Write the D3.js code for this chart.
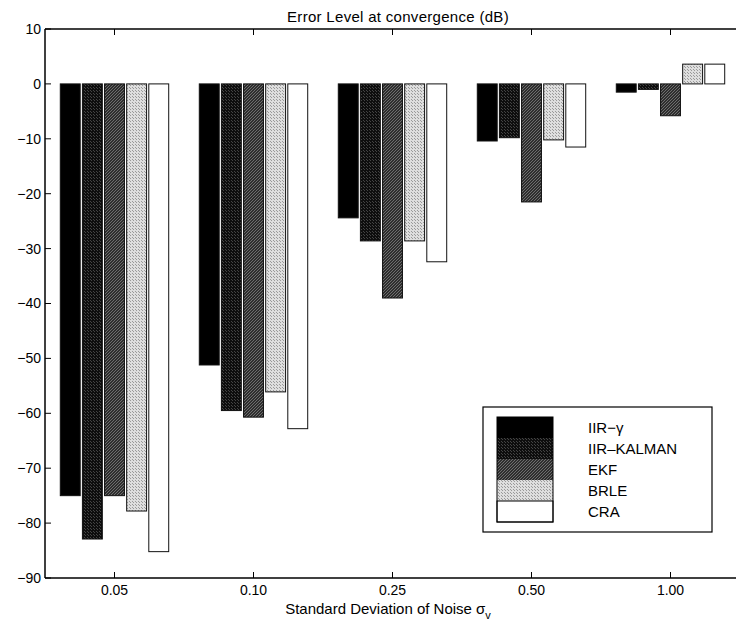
<!DOCTYPE html>
<html>
<head>
<meta charset="utf-8">
<script src="https://cdn.jsdelivr.net/npm/d3@7"></script>
<style>
  html, body { margin: 0; padding: 0; background: #fff; }
  svg { display: block; }
  text { font-family: "Liberation Sans", Arial, Helvetica, sans-serif; fill: #000; }
</style>
</head>
<body>
<svg id="chart" width="736" height="629"></svg>
<script>
// ---- data ----
const groups = ["0.05", "0.10", "0.25", "0.50", "1.00"];
const seriesNames = ["IIR\u2212\u03b3", "IIR\u2013KALMAN", "EKF", "BRLE", "CRA"];
const iirGamma  = [-75.0, -51.2, -24.4, -10.4, -1.5];
const iirKalman = [-82.9, -59.5, -28.6,  -9.8, -1.0];
const ekf       = [-75.0, -60.7, -39.0, -21.5, -5.8];
const brle      = [-77.8, -56.1, -28.6, -10.2,  3.6];
const cra       = [-85.2, -62.8, -32.4, -11.5,  3.6];
const yTicks = [10, 0, -10, -20, -30, -40, -50, -60, -70, -80, -90];
const titleText = "Error Level at convergence (dB)";
const xLabelText = "Standard Deviation of Noise \u03c3";
const xLabelSub = "v";

const seriesValues = [iirGamma, iirKalman, ekf, brle, cra];

// ---- layout ----
const svg = d3.select("#chart");
const pL = 45, pR = 740, pT = 29, pB = 578;

const x0 = d3.scaleBand().domain(groups).range([pL, pR]).paddingInner(0.22).paddingOuter(0.11);
const x1 = d3.scaleBand().domain(d3.range(seriesNames.length)).range([0, x0.bandwidth()]).paddingInner(0.1);
const y = d3.scaleLinear().domain([-90, 10]).range([pB, pT]);

// ---- patterns ----
const defs = svg.append("defs");
function dotPattern(id, base, dot, size) {
  const p = defs.append("pattern").attr("id", id).attr("patternUnits", "userSpaceOnUse")
    .attr("width", size).attr("height", size);
  p.append("rect").attr("width", size).attr("height", size).attr("fill", base);
  p.append("rect").attr("x", 0).attr("y", 0).attr("width", 1).attr("height", 1).attr("fill", dot);
  p.append("rect").attr("x", Math.floor(size / 2)).attr("y", Math.floor(size / 2)).attr("width", 1).attr("height", 1).attr("fill", dot);
}
function hatchPattern(id, base, line) {
  const p = defs.append("pattern").attr("id", id).attr("patternUnits", "userSpaceOnUse")
    .attr("width", 3).attr("height", 3);
  p.append("rect").attr("width", 3).attr("height", 3).attr("fill", base);
  p.append("path").attr("d", "M-1,1 L1,-1 M0,3 L3,0 M2,4 L4,2").attr("stroke", line).attr("stroke-width", 0.7);
}
dotPattern("p-kal", "#0e0e0e", "#444444", 3);
hatchPattern("p-ekf", "#2e2e2e", "#8a8a8a");
dotPattern("p-brle", "#dedede", "#9a9a9a", 3);

const fills = ["#000000", "url(#p-kal)", "url(#p-ekf)", "url(#p-brle)", "#ffffff"];

// ---- bars ----
const barG = svg.append("g");
seriesValues.forEach((vals, si) => {
  barG.selectAll(null).data(vals).enter().append("rect")
    .attr("x", (d, gi) => x0(groups[gi]) + x1(si))
    .attr("width", x1.bandwidth())
    .attr("y", d => y(Math.max(0, d)))
    .attr("height", d => Math.abs(y(d) - y(0)))
    .attr("fill", fills[si])
    .attr("stroke", "#111")
    .attr("stroke-width", 1);
});

// ---- axes box ----
const axisG = svg.append("g");
axisG.append("line").attr("x1", pL).attr("x2", pL).attr("y1", pT).attr("y2", pB).attr("stroke", "#000").attr("stroke-width", 1.5);
axisG.append("line").attr("x1", pL).attr("x2", pR).attr("y1", pB).attr("y2", pB).attr("stroke", "#000").attr("stroke-width", 1.5);
axisG.append("line").attr("x1", pL).attr("x2", pR).attr("y1", pT).attr("y2", pT).attr("stroke", "#000").attr("stroke-width", 1.5);

// y ticks (inward) and labels
yTicks.forEach(t => {
  axisG.append("line").attr("x1", pL).attr("x2", pL + 6).attr("y1", y(t)).attr("y2", y(t)).attr("stroke", "#000").attr("stroke-width", 1);
  axisG.append("text").attr("x", pL - 4).attr("y", y(t)).attr("dy", "0.35em")
    .attr("text-anchor", "end").attr("font-size", 14).text(t < 0 ? "\u2212" + Math.abs(t) : String(t));
});

// x ticks (inward, bottom and top) and labels
groups.forEach(g => {
  const cx = x0(g) + x0.bandwidth() / 2;
  axisG.append("line").attr("x1", cx).attr("x2", cx).attr("y1", pB).attr("y2", pB - 6).attr("stroke", "#000").attr("stroke-width", 1);
  axisG.append("line").attr("x1", cx).attr("x2", cx).attr("y1", pT).attr("y2", pT + 6).attr("stroke", "#000").attr("stroke-width", 1);
  axisG.append("text").attr("x", cx).attr("y", 595).attr("text-anchor", "middle").attr("font-size", 14).text(g);
});

// title
svg.append("text").attr("x", 398).attr("y", 22).attr("text-anchor", "middle").attr("font-size", 15)
  .attr("letter-spacing", 0.3).text(titleText);

// x label
const xl = svg.append("text").attr("x", 388).attr("y", 614).attr("text-anchor", "middle").attr("font-size", 15);
xl.append("tspan").text(xLabelText);
xl.append("tspan").attr("dy", 5).attr("font-size", 11).text(xLabelSub);

// ---- legend ----
const lg = svg.append("g");
lg.append("rect").attr("x", 483).attr("y", 407).attr("width", 229).attr("height", 125)
  .attr("fill", "#fff").attr("stroke", "#000").attr("stroke-width", 1.2);
const rowH = 21;
seriesNames.forEach((name, i) => {
  const ry = 417 + i * rowH;
  lg.append("rect").attr("x", 497).attr("y", ry).attr("width", 56).attr("height", rowH)
    .attr("fill", fills[i]).attr("stroke", i === 4 ? "#000" : "none").attr("stroke-width", 1);
  lg.append("text").attr("x", 588).attr("y", ry + rowH / 2).attr("dy", "0.35em")
    .attr("font-size", 15).text(name);
});
lg.append("rect").attr("x", 497).attr("y", 417).attr("width", 56).attr("height", rowH * 5)
  .attr("fill", "none").attr("stroke", "#000").attr("stroke-width", 1);
</script>
</body>
</html>
